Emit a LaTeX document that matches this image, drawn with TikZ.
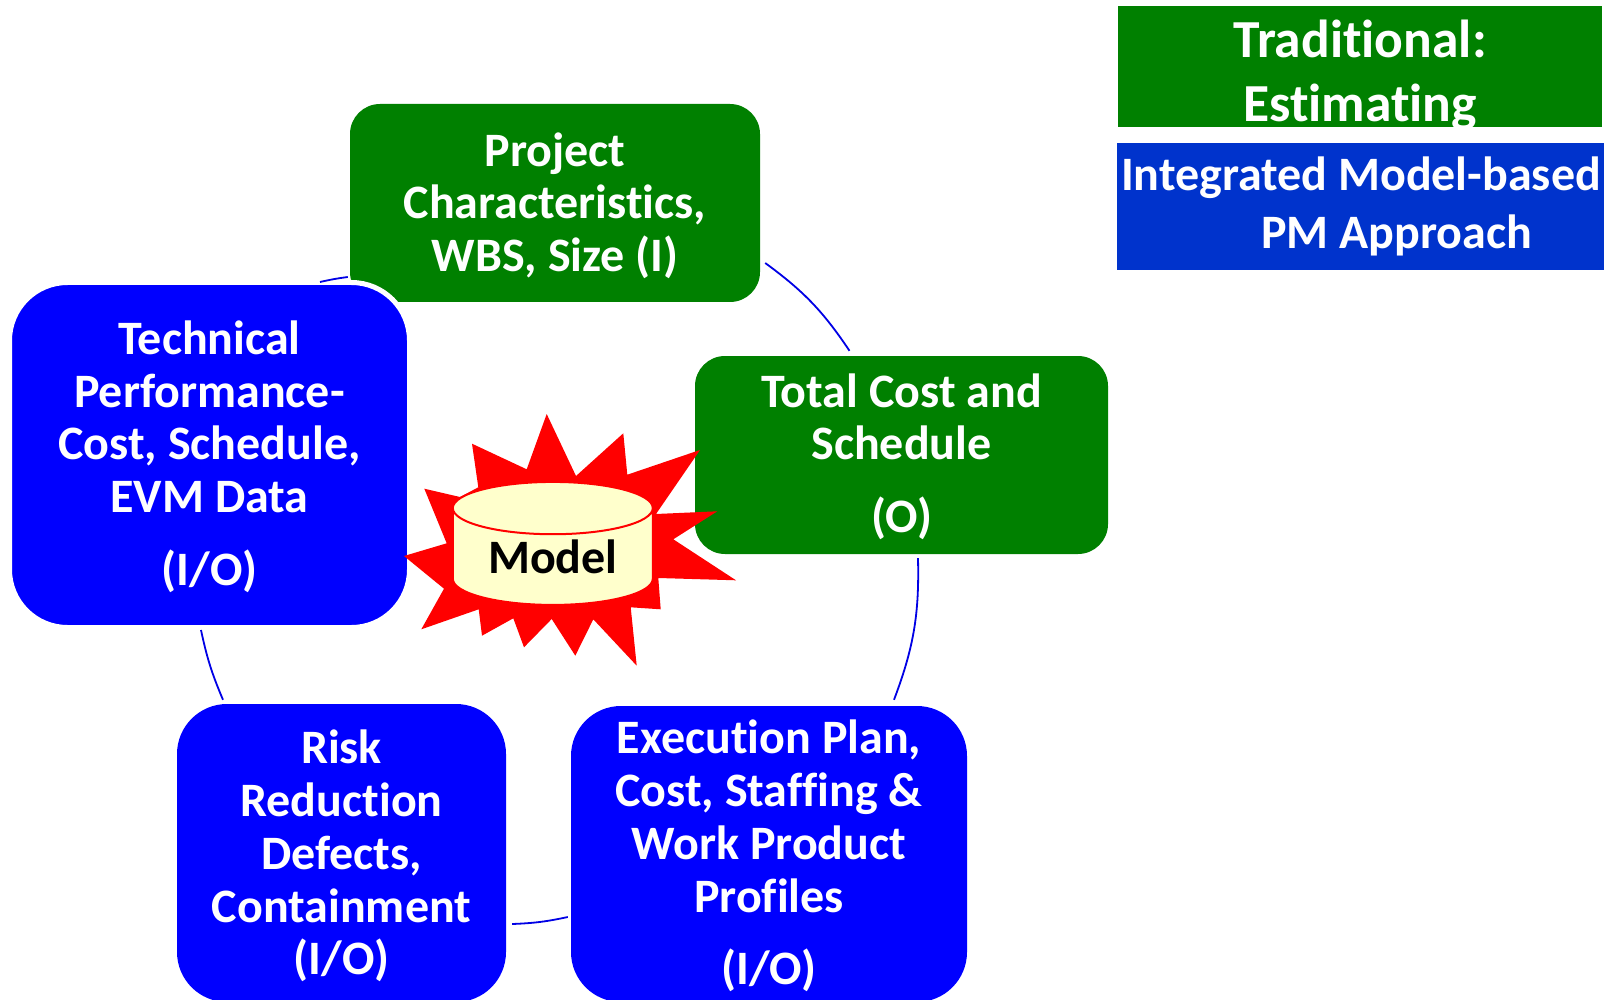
\documentclass[tikz,border=0pt]{standalone}
\usepackage{fontspec}
\setmainfont[Ligatures=NoCommon]{Carlito}
\usetikzlibrary{shapes.geometric}
\definecolor{estgreen}{HTML}{008000}
\definecolor{pmblue}{HTML}{0000FF}
\definecolor{legendblue}{HTML}{0033CC}
\definecolor{modelfill}{HTML}{FFFFCC}
\newcommand{\firstline}[1]{\rule{0pt}{#1}\ignorespaces}

\begin{document}
\begin{tikzpicture}[x=1pt,y=1pt,
  step box/.style={draw=none,text=white,align=center,font=\fontsize{48}{52.7}\selectfont\bfseries,
    minimum width=#1},
  green box/.style={step box=#1,fill=estgreen,rounded corners=30pt},
  blue box/.style={step box=#1,fill=pmblue,rounded corners=50pt},
  legend box/.style={text=white,inner sep=0pt,minimum width=#1},
  link/.style={draw=pmblue!90!black,line width=1.8pt}]
  \clip (0,0) rectangle (1606,-1000);

  \node[green box=410pt,minimum height=198pt] (project) at (555,-203) {
    \firstline{39pt}Project\\
    Characteristics,\\
    WBS, Size (I)
  };

  \node[green box=413pt,minimum height=198pt] (total) at (901.5,-455) {
    \firstline{37pt}Total Cost and\\
    Schedule\\[20pt]
    (O)
  };

  \node[blue box=400pt,minimum height=345pt,draw=white,line width=5pt,rounded corners=58pt] (technical) at (209.5,-455) {
    \firstline{37pt}Technical\\
    Performance-\\
    Cost, Schedule,\\
    EVM Data\\[20pt]
    (I/O)
  };

  \node[blue box=396pt,minimum height=296pt] (execution) at (769,-854) {
    \firstline{38pt}Execution Plan,\\
    Cost, Staffing \&\\
    Work Product\\
    Profiles\\[20pt]
    (I/O)
  };

  \node[blue box=329pt,minimum height=298pt] (risk) at (341.5,-853) {
    \firstline{40pt}Risk\\
    Reduction\\
    Defects,\\
    Containment\\
    (I/O)
  };

  \fill[red] (546.7,-414) -- (576,-476) -- (623.3,-433.3) -- (627.3,-474.7) -- (700,-450)
    -- (656,-514) -- (717.3,-511.3) -- (673.3,-539.3) -- (736,-580.3) -- (658.3,-578)
    -- (660.7,-609.3) -- (630.7,-607.3) -- (636.7,-665.7) -- (593.3,-619.3) -- (575.3,-655.7)
    -- (551.7,-619) -- (524,-647.3) -- (513.3,-618.3) -- (482,-635.7) -- (478.7,-609.3)
    -- (421.3,-629.3) -- (444,-588.7) -- (404,-556) -- (446.7,-543.3) -- (424.3,-488.7)
    -- (460,-497) -- (478.3,-487.3) -- (472,-443.7) -- (526.7,-469.3) -- cycle;

  \node[cylinder,shape border rotate=90,aspect=0.404,draw=red,line width=2pt,
    cylinder uses custom fill,cylinder body fill=modelfill,cylinder end fill=modelfill,
    minimum width=200pt,minimum height=123pt,inner sep=0pt,
    font=\fontsize{48}{52}\selectfont\bfseries] (model) at (552.8,-557) {Model};

  \node[legend box=484pt,minimum height=121pt,inner ysep=-6pt,fill=estgreen,align=center,
    font=\fontsize{53.5}{64}\selectfont\bfseries] (traditional) at (1360,-66.5) {
    \firstline{56pt}Traditional:\\
    Estimating
  };

  \node[legend box=487pt,minimum height=127pt,fill=legendblue,align=left,
    font=\fontsize{48}{58}\selectfont\bfseries] (integrated) at (1360.5,-206.5) {
    \hspace*{1pt}Integrated Model-based\\
    \hspace*{141pt}PM Approach
  };

  \draw[link] ([shift={(5,-60)}]project.east) to[bend left=10] ([shift={(-52,5)}]total.north);
  \draw[link] ([shift={(16.5,-4)}]total.south) to[bend left=11] ([shift={(125,6)}]execution.north);
  \draw[link] ([shift={(-3,-63)}]execution.west) to[bend left=5] ([shift={(6,-71)}]risk.east);
  \draw[link] ([shift={(-118.5,4)}]risk.north) to[bend left=5.5] ([shift={(-8.5,0)}]technical.south);
  \draw[link] ([shift={(110.5,-2)}]technical.north) to[bend left=2.5] ([shift={(-2,-74)}]project.west);
\end{tikzpicture}
\end{document}
